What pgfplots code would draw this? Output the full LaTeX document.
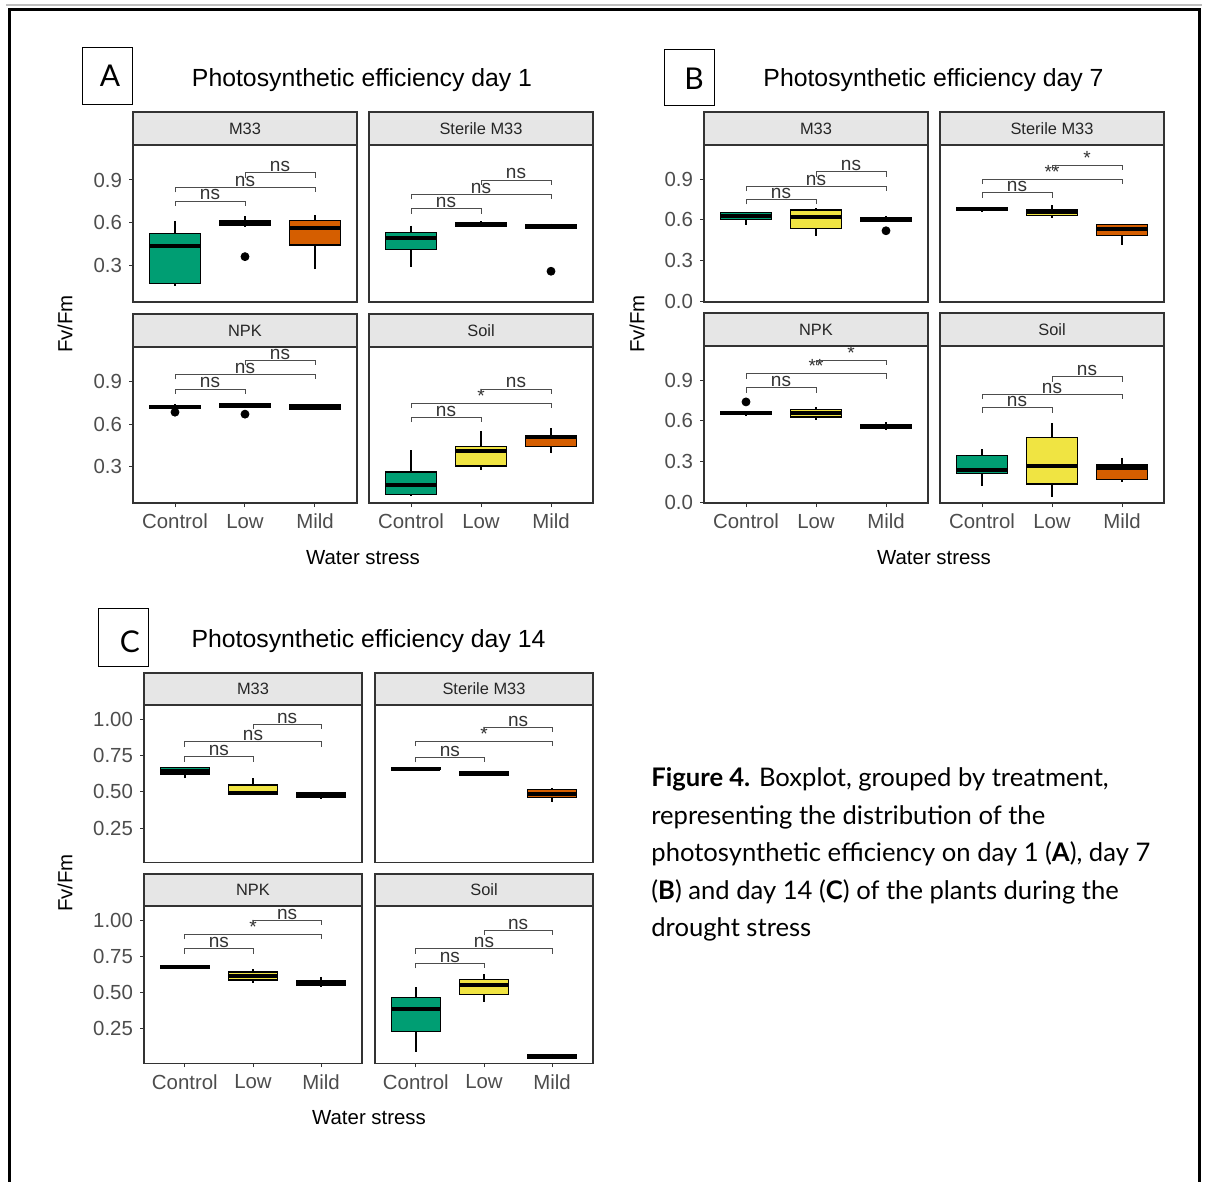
\documentclass[border=0pt]{standalone}
\usepackage{fontspec}
\setmainfont{Liberation Sans}
\newfontfamily\capfont{Lato}
\usepackage{pgfplots}
\pgfplotsset{compat=1.18}
\usepgfplotslibrary{statistics}

\definecolor{ctrl}{HTML}{009E73}
\definecolor{low}{HTML}{F0E442}
\definecolor{mild}{HTML}{D55E00}
\definecolor{grey20}{HTML}{333333}
\definecolor{grey30}{HTML}{4D4D4D}
\definecolor{stripfill}{HTML}{E6E6E6}

\newcommand\ticklabfont{\fontsize{10.2}{12}\selectfont}
\newcommand\siglabfont{\fontsize{9.5}{11}\selectfont}
\newcommand\stripfont{\fontsize{8.2}{10}\selectfont}

\pgfplotsset{
  panel/.style={
    scale only axis, width=112pt, height=78.5pt,
    xmin=0.4, xmax=3.6, clip=false,
    axis line style={draw=grey20, line width=0.6pt},
    tick align=outside, tick pos=left, major tick length=2pt,
    tick style={draw=grey20, line width=0.5pt},
    ticklabel style={font=\ticklabfont, text=grey30},
    xtick=\empty, ytick=\empty,
    anchor=north west,
    boxplot/draw direction=y,
    boxplot/every median/.style={line width=2pt},
  },
  xcat/.style={xtick={1,2,3}, xticklabels={Control,Low,Mild}},
  bracket/.style={draw=grey30, line width=0.45pt},
  outlier/.style={only marks, mark=*, mark size=2pt, mark options={fill=black, draw=black}},
}

% one box: position, fill, lower whisker, lower quartile, median, upper quartile, upper whisker
\newcommand\bx[7]{%
  \addplot[boxplot prepared={draw position=#1, lower whisker=#3, lower quartile=#4,
      median=#5, upper quartile=#6, upper whisker=#7, box extend=0.72, whisker extend=0},
    draw=black, fill=#2, line width=0.65pt] coordinates {};}

% significance bracket: from, to, label position, height, label
\newcommand\tiplen{0.035}
\newcommand\sig[5]{%
  \pgfmathsetmacro\tiplo{#4-\tiplen}%
  \addplot[bracket] coordinates {(#1,\tiplo) (#1,#4) (#2,#4) (#2,\tiplo)};
  \node[font=\siglabfont, text=grey20, anchor=base, inner sep=0pt, yshift=0.5pt] at (axis cs:#3,#4) {#5};}

% facet strip above a panel
\newcommand\strip[3]{%
  \draw[grey20, fill=stripfill, line width=0.6pt] (#1.north west) rectangle ([yshift=#2]#1.north east);
  \node[font=\stripfont, text=black!85] at ([yshift=#2/2]#1.north) {#3};}

\begin{document}
\begin{tikzpicture}
\useasboundingbox (0,0) rectangle (602.5pt,-591pt);
\fill[white] (0,0) rectangle (602.5pt,-591pt);
% page frame
\draw[black!25, line width=0.6pt] (3pt,-2.5pt) -- (601pt,-2.5pt);
\draw[black, line width=1.6pt] (4.7pt,-591pt) -- (4.7pt,-4.6pt) -- (599.8pt,-4.6pt) -- (599.8pt,-591pt);

% ---------------- A: day 1 ----------------
\renewcommand\tiplen{0.035}
\begin{axis}[panel, name=a1, at={(66.5pt,-72.5pt)}, ymin=0.039, ymax=1.147,
  ytick={0.3,0.6,0.9}, yticklabels={0.3,0.6,0.9}]
\bx{1}{ctrl}{0.152}{0.171}{0.434}{0.524}{0.611}
\bx{2}{low}{0.575}{0.578}{0.597}{0.615}{0.646}
\bx{3}{mild}{0.270}{0.441}{0.559}{0.613}{0.653}
\addplot[outlier] coordinates {(2,0.359)};
\sig{1}{2}{1.5}{0.752}{ns}
\sig{1}{3}{2}{0.848}{ns}
\sig{2}{3}{2.5}{0.952}{ns}
\end{axis}
\strip{a1}{16.5pt}{M33}

\begin{axis}[panel, name=a2, at={(184.5pt,-72.5pt)}, ymin=0.039, ymax=1.147]
\bx{1}{ctrl}{0.288}{0.411}{0.488}{0.531}{0.578}
\bx{2}{low}{0.570}{0.576}{0.590}{0.600}{0.610}
\bx{3}{mild}{0.560}{0.562}{0.575}{0.588}{0.592}
\addplot[outlier] coordinates {(3,0.256)};
\sig{1}{2}{1.5}{0.698}{ns}
\sig{1}{3}{2}{0.799}{ns}
\sig{2}{3}{2.5}{0.900}{ns}
\end{axis}
\strip{a2}{16.5pt}{Sterile M33}

\begin{axis}[panel, xcat, name=a3, at={(66.5pt,-173.5pt)}, height=78pt, ymin=0.039, ymax=1.147,
  ytick={0.3,0.6,0.9}, yticklabels={0.3,0.6,0.9}]
\bx{1}{ctrl}{0.705}{0.708}{0.720}{0.728}{0.740}
\bx{2}{low}{0.715}{0.718}{0.730}{0.742}{0.748}
\bx{3}{mild}{0.700}{0.705}{0.720}{0.738}{0.741}
\addplot[outlier] coordinates {(1,0.684) (2,0.670)};
\sig{1}{2}{1.5}{0.849}{ns}
\sig{1}{3}{2}{0.952}{ns}
\sig{2}{3}{2.5}{1.053}{ns}
\end{axis}
\strip{a3}{16.5pt}{NPK}

\begin{axis}[panel, xcat, name=a4, at={(184.5pt,-173.5pt)}, height=78pt, ymin=0.039, ymax=1.147]
\bx{1}{ctrl}{0.090}{0.100}{0.170}{0.259}{0.412}
\bx{2}{low}{0.271}{0.301}{0.407}{0.442}{0.553}
\bx{3}{mild}{0.391}{0.438}{0.508}{0.520}{0.570}
\sig{1}{2}{1.5}{0.649}{ns}
\sig{1}{3}{2}{0.748}{*}
\sig{2}{3}{2.5}{0.849}{ns}
\end{axis}
\strip{a4}{16.5pt}{Soil}

% ---------------- B: day 7 ----------------
\renewcommand\tiplen{0.037}
\begin{axis}[panel, name=b1, at={(352pt,-72.5pt)}, ymin=-0.005, ymax=1.152,
  ytick={0,0.3,0.6,0.9}, yticklabels={0.0,0.3,0.6,0.9}]
\bx{1}{ctrl}{0.562}{0.604}{0.628}{0.652}{0.660}
\bx{2}{low}{0.481}{0.537}{0.623}{0.672}{0.685}
\bx{3}{mild}{0.590}{0.592}{0.605}{0.620}{0.630}
\addplot[outlier] coordinates {(3,0.520)};
\sig{1}{2}{1.5}{0.751}{ns}
\sig{1}{3}{2}{0.849}{ns}
\sig{2}{3}{2.5}{0.955}{ns}
\end{axis}
\strip{b1}{16.5pt}{M33}

\begin{axis}[panel, name=b2, at={(470pt,-72.5pt)}, ymin=-0.005, ymax=1.152]
\bx{1}{ctrl}{0.665}{0.668}{0.678}{0.688}{0.692}
\bx{2}{low}{0.611}{0.630}{0.655}{0.675}{0.709}
\bx{3}{mild}{0.415}{0.486}{0.530}{0.564}{0.570}
\sig{1}{2}{1.5}{0.799}{ns}
\sig{1}{3}{2}{0.900}{**}
\sig{2}{3}{2.5}{1.003}{*}
\end{axis}
\strip{b2}{16.5pt}{Sterile M33}

\begin{axis}[panel, xcat, name=b3, at={(352pt,-173pt)}, ymin=-0.005, ymax=1.152,
  ytick={0,0.3,0.6,0.9}, yticklabels={0.0,0.3,0.6,0.9}]
\bx{1}{ctrl}{0.640}{0.645}{0.655}{0.668}{0.672}
\bx{2}{low}{0.610}{0.628}{0.655}{0.682}{0.700}
\bx{3}{mild}{0.530}{0.548}{0.560}{0.574}{0.590}
\addplot[outlier] coordinates {(1,0.740)};
\sig{1}{2}{1.5}{0.846}{ns}
\sig{1}{3}{2}{0.949}{**}
\sig{2}{3}{2.5}{1.047}{*}
\end{axis}
\strip{b3}{16.5pt}{NPK}

\begin{axis}[panel, xcat, name=b4, at={(470pt,-173pt)}, ymin=-0.005, ymax=1.152]
\bx{1}{ctrl}{0.123}{0.214}{0.238}{0.343}{0.390}
\bx{2}{low}{0.038}{0.135}{0.270}{0.479}{0.586}
\bx{3}{mild}{0.152}{0.170}{0.251}{0.275}{0.329}
\sig{1}{2}{1.5}{0.696}{ns}
\sig{1}{3}{2}{0.797}{ns}
\sig{2}{3}{2.5}{0.924}{ns}
\end{axis}
\strip{b4}{16.5pt}{Soil}

% ---------------- C: day 14 ----------------
\renewcommand\tiplen{0.034}
\begin{axis}[panel, name=c1, at={(72pt,-352.5pt)}, width=109pt, height=78.8pt, ymin=0.013, ymax=1.098,
  ytick={0.25,0.5,0.75,1}, yticklabels={0.25,0.50,0.75,1.00}]
\bx{1}{ctrl}{0.593}{0.622}{0.645}{0.666}{0.670}
\bx{2}{low}{0.483}{0.485}{0.495}{0.547}{0.593}
\bx{3}{mild}{0.455}{0.459}{0.478}{0.497}{0.500}
\sig{1}{2}{1.5}{0.741}{ns}
\sig{1}{3}{2}{0.844}{ns}
\sig{2}{3}{2.5}{0.966}{ns}
\end{axis}
\strip{c1}{16pt}{M33}

\begin{axis}[panel, name=c2, at={(187.5pt,-352.5pt)}, width=109pt, height=78.8pt, ymin=0.013, ymax=1.098]
\bx{1}{ctrl}{0.650}{0.652}{0.660}{0.668}{0.672}
\bx{2}{low}{0.615}{0.617}{0.627}{0.636}{0.638}
\bx{3}{mild}{0.428}{0.459}{0.485}{0.517}{0.530}
\sig{1}{2}{1.5}{0.737}{ns}
\sig{1}{3}{2}{0.849}{*}
\sig{2}{3}{2.5}{0.943}{ns}
\end{axis}
\strip{c2}{16pt}{Sterile M33}

\begin{axis}[panel, xcat, name=c3, at={(72pt,-453pt)}, width=109pt, height=78.6pt, ymin=0.013, ymax=1.098,
  ytick={0.25,0.5,0.75,1}, yticklabels={0.25,0.50,0.75,1.00}]
\bx{1}{ctrl}{0.668}{0.670}{0.678}{0.688}{0.690}
\bx{2}{low}{0.570}{0.587}{0.614}{0.642}{0.660}
\bx{3}{mild}{0.545}{0.548}{0.566}{0.585}{0.610}
\sig{1}{2}{1.5}{0.804}{ns}
\sig{1}{3}{2}{0.903}{*}
\sig{2}{3}{2.5}{1.000}{ns}
\end{axis}
\strip{c3}{16pt}{NPK}

\begin{axis}[panel, xcat, name=c4, at={(187.5pt,-453pt)}, width=109pt, height=78.6pt, ymin=0.013, ymax=1.098]
\bx{1}{ctrl}{0.091}{0.233}{0.384}{0.465}{0.538}
\bx{2}{low}{0.434}{0.488}{0.550}{0.591}{0.626}
\bx{3}{mild}{0.044}{0.048}{0.060}{0.075}{0.079}
\sig{1}{2}{1.5}{0.702}{ns}
\sig{1}{3}{2}{0.804}{ns}
\sig{2}{3}{2.5}{0.931}{ns}
\end{axis}
\strip{c4}{16pt}{Soil}

% ---------------- titles and axis titles ----------------
\begin{scope}[every node/.style={font=\fontsize{12.4}{14}\selectfont}]
\node at (181pt,-40pt) {Photosynthetic efficiency day 1};
\node at (466.75pt,-40pt) {Photosynthetic efficiency day 7};
\node at (184.25pt,-320.5pt) {Photosynthetic efficiency day 14};
\end{scope}
\begin{scope}[every node/.style={font=\ticklabfont}]
\node[rotate=90] at (32.5pt,-162pt) {Fv/Fm};
\node[rotate=90] at (318.5pt,-162pt) {Fv/Fm};
\node[rotate=90] at (32.5pt,-441.5pt) {Fv/Fm};
\node at (181.5pt,-279pt) {Water stress};
\node at (467pt,-279pt) {Water stress};
\node at (184.5pt,-559pt) {Water stress};
\end{scope}

% ---------------- panel letters ----------------
\draw[black, line width=0.5pt] (41.3pt,-23.7pt) rectangle (66.3pt,-52.5pt);
\draw[black, line width=0.5pt] (332pt,-25pt) rectangle (357pt,-53pt);
\draw[black, line width=0.5pt] (49pt,-304pt) rectangle (74pt,-333pt);
\begin{scope}[every node/.style={font=\capfont\fontsize{15}{18}\selectfont}]
\node at (55pt,-37.9pt) {A};
\node at (347pt,-39.5pt) {B};
\node at (65pt,-320.8pt) {C};
\end{scope}

% ---------------- caption ----------------
\begin{scope}[every node/.style={font=\capfont\fontsize{12.8}{15}\selectfont, anchor=base west, inner sep=0pt}]
\node at (325.5pt,-393.3pt) {\textbf{Figure 4.} Boxplot, grouped by treatment,};
\node at (325.5pt,-412pt) {representing the distribution of the};
\node at (325.5pt,-430.8pt) {photosynthetic efficiency on day 1 (\textbf{A}), day 7};
\node at (325.5pt,-449.5pt) {(\textbf{B}) and day 14 (\textbf{C}) of the plants during the};
\node at (325.5pt,-468.3pt) {drought stress};
\end{scope}
\end{tikzpicture}
\end{document}
